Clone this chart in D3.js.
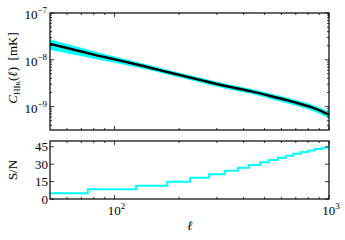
<!DOCTYPE html>
<html>
<head>
<meta charset="utf-8">
<script src="https://cdn.jsdelivr.net/npm/d3@7"></script>
<style>
  body { margin: 0; background: #fff; }
  text { font-family: "Liberation Serif", "DejaVu Serif", serif; fill: #000; }
</style>
</head>
<body>
<svg id="chart"></svg>
<script>
var w = 345;
var h = 240;

// multipole values for the spectrum
var ell = [50, 60, 70, 80, 100, 130, 180, 250, 330, 430, 550, 730, 850, 1000];
// C_HI,kappa(ell) in mK
var cl = [2.19e-8, 1.78e-8, 1.5e-8, 1.29e-8, 1.02e-8, 7.76e-9, 5.37e-9, 3.72e-9, 2.75e-9, 2.14e-9, 1.62e-9, 1.15e-9, 9.3e-10, 6.7e-10];
// relative error giving the cyan band
var clErr = [0.25, 0.22, 0.2, 0.18, 0.15, 0.13, 0.12, 0.12, 0.12, 0.12, 0.13, 0.14, 0.15, 0.16];

// S/N steps: bin edges and level per bin
var snEdges = [50, 75, 126, 176, 225, 276, 326, 376, 424, 477, 526, 577, 629, 681, 742, 798, 861, 927, 1000];
var snLevels = [5, 8.4, 11.5, 14.9, 18.4, 21.3, 24.4, 27, 29.3, 31.6, 33.6, 35.6, 37.3, 39, 40.5, 41.8, 43, 44.2];

var xMajor = [100, 1000];
var xMinor = [60, 70, 80, 90, 200, 300, 400, 500, 600, 700, 800, 900];
var yMajorExp = [-7, -8, -9];
var snTicks = [0, 15, 30, 45];

var svg = d3.select("#chart")
    .attr("width", w)
    .attr("height", h);

var x = d3.scaleLog().domain([50, 1000]).range([50, 329]);
var yTop = d3.scaleLog().domain([Math.pow(10, -9.5), 1e-7]).range([130, 13]);
var yBot = d3.scaleLinear().domain([0, 50]).range([199, 141]);

// minor ticks of the log y axis
var yMinor = [];
[-10, -9, -8].forEach(function (e) {
  for (var k = 2; k <= 9; k++) {
    var v = k * Math.pow(10, e);
    if (v > yTop.domain()[0] && v < 1e-7) yMinor.push(v);
  }
});

var pts = ell.map(function (d, i) { return { l: d, c: cl[i], e: clErr[i] }; });

// band
var band = d3.area()
    .curve(d3.curveMonotoneX)
    .x(d => x(d.l))
    .y0(d => yTop(d.c * (1 - d.e)))
    .y1(d => yTop(d.c * (1 + d.e)));

svg.append("path")
    .datum(pts)
    .attr("d", band)
    .style("fill", "#00ffff");

svg.append("path")
    .datum(pts)
    .attr("d", d3.line().curve(d3.curveMonotoneX).x(d => x(d.l)).y(d => yTop(d.c)))
    .style("fill", "none")
    .style("stroke", "#000")
    .style("stroke-width", 2.5);

// S/N step line
var steps = snLevels.map(function (v, i) { return [snEdges[i], v]; });
steps.push([snEdges[snEdges.length - 1], snLevels[snLevels.length - 1]]);
svg.append("path")
    .datum(steps)
    .attr("d", d3.line().curve(d3.curveStepAfter).x(d => x(d[0])).y(d => yBot(d[1])))
    .style("fill", "none")
    .style("stroke", "#00ffff")
    .style("stroke-width", 2);

function drawFrame(y0, y1) {
  svg.append("rect")
      .attr("x", 50).attr("y", y0)
      .attr("width", 279).attr("height", y1 - y0)
      .style("fill", "none")
      .style("stroke", "#000")
      .style("stroke-width", 1.2);
  var g = svg.append("g").style("stroke", "#000").style("stroke-width", 0.8);
  xMajor.concat(xMinor).forEach(function (v) {
    var len = xMajor.indexOf(v) >= 0 ? 4 : 2;
    g.append("line").attr("x1", x(v)).attr("x2", x(v)).attr("y1", y1).attr("y2", y1 - len);
    g.append("line").attr("x1", x(v)).attr("x2", x(v)).attr("y1", y0).attr("y2", y0 + len);
  });
  return g;
}

var gTop = drawFrame(13, 130);
yMajorExp.map(e => Math.pow(10, e)).concat(yMinor).forEach(function (v) {
  var len = yMinor.indexOf(v) >= 0 ? 2 : 4;
  gTop.append("line").attr("x1", 50).attr("x2", 50 + len).attr("y1", yTop(v)).attr("y2", yTop(v));
  gTop.append("line").attr("x1", 329).attr("x2", 329 - len).attr("y1", yTop(v)).attr("y2", yTop(v));
});

var gBot = drawFrame(141, 199);
snTicks.forEach(function (v) {
  gBot.append("line").attr("x1", 50).attr("x2", 54).attr("y1", yBot(v)).attr("y2", yBot(v));
  gBot.append("line").attr("x1", 329).attr("x2", 325).attr("y1", yBot(v)).attr("y2", yBot(v));
});

function powLabel(px, py, exp, anchor) {
  var t = svg.append("text")
      .attr("x", px).attr("y", py)
      .attr("text-anchor", anchor)
      .style("font-size", "13px");
  t.append("tspan").text("10");
  t.append("tspan").attr("dy", -6).style("font-size", "9px").text(exp);
  return t;
}

yMajorExp.forEach(function (e) {
  powLabel(47, yTop(Math.pow(10, e)) + 6, "\u2212" + (-e), "end");
});
xMajor.forEach(function (v) {
  powLabel(x(v) + 2, 215, String(Math.round(Math.log10(v))), "middle");
});
snTicks.forEach(function (v) {
  svg.append("text")
      .attr("x", 48).attr("y", yBot(v) + 4.5)
      .attr("text-anchor", "end")
      .style("font-size", "13px")
      .text(v);
});

// axis titles
var yl = svg.append("text")
    .attr("transform", "translate(17,68) rotate(-90)")
    .attr("text-anchor", "middle")
    .style("font-size", "13px");
yl.append("tspan").style("font-style", "italic").text("C");
yl.append("tspan").attr("dy", 3).style("font-size", "9px").text("HI\u03ba");
yl.append("tspan").attr("dy", -3).text("(");
yl.append("tspan").style("font-style", "italic").text("\u2113");
yl.append("tspan").text(")\u00a0\u00a0[mK]");

svg.append("text")
    .attr("transform", "translate(17,170) rotate(-90)")
    .attr("text-anchor", "middle")
    .style("font-size", "13px")
    .text("S/N");

svg.append("text")
    .attr("x", 190).attr("y", 230)
    .attr("text-anchor", "middle")
    .style("font-size", "13px")
    .style("font-style", "italic")
    .text("\u2113");
</script>
</body>
</html>
